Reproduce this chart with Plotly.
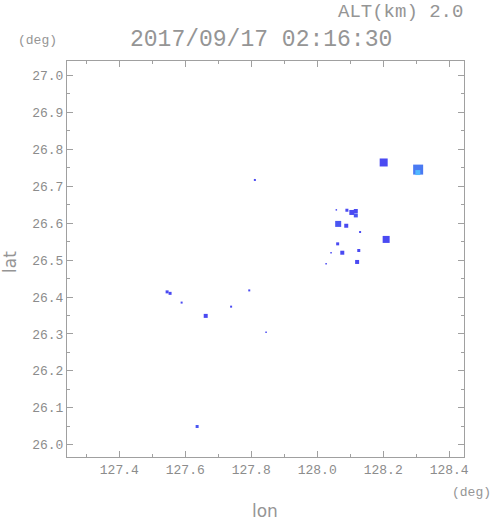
import plotly.graph_objects as go

# Echo cells: longitude, latitude, echo extent (cells), reflectivity-like value
lon = [128.2015, 128.306, 128.305, 128.090, 128.105, 128.117, 128.117, 128.0636, 128.088,
       128.209, 128.130, 128.062, 128.076, 128.126, 128.121, 128.042, 128.027, 128.058,
       127.545, 127.554, 127.589, 127.662, 127.739, 127.794, 127.845, 127.811, 127.636]
lat = [26.7643, 26.745, 26.737, 26.635, 26.629, 26.633, 26.621, 26.598, 26.593,
       26.556, 26.576, 26.544, 26.520, 26.526, 26.495, 26.520, 26.490, 26.636,
       26.414, 26.410, 26.385, 26.349, 26.374, 26.418, 26.305, 26.717, 26.0495]
extent = [8, 10, 5, 3, 5, 4, 4, 6, 4,
          7, 2, 3, 4, 3, 4, 1.5, 1.5, 1.5,
          3, 3, 2, 4, 2, 2, 1.5, 2, 3]
value = [20, 28, 36, 20, 20, 20, 22, 22, 20,
         20, 20, 20, 20, 20, 20, 20, 20, 20,
         20, 20, 20, 20, 20, 20, 20, 20, 22]

title_time = "2017/09/17 02:16:30"
alt_label = "ALT(km) 2.0"

gray = "#959595"
font_family = "Liberation Mono"
sans = "DejaVu Sans"

fig = go.Figure()
fig.add_trace(go.Scatter(
    x=lon, y=lat, mode="markers",
    marker=dict(symbol="square", size=extent, color=value, opacity=1,
                colorscale=[[0, "#4a4af2"], [0.5, "#4a7af2"], [1, "#52b8ff"]],
                cmin=20, cmax=36, line=dict(width=0)),
    hoverinfo="skip", showlegend=False))

axis_common = dict(
    showgrid=False, zeroline=False, showline=True, linecolor="#a0a0a0", linewidth=1,
    mirror="ticks", ticks="inside", ticklen=6, tickcolor="#a0a0a0", tickwidth=1,
    tickfont=dict(family=font_family, size=13, color="#8c8c8c"),
)

W, H = 491, 521
L, R, T, B = 67, 27, 61, 64

fig.update_layout(
    width=W, height=H,
    margin=dict(l=L, r=R, t=T, b=B),
    paper_bgcolor="white", plot_bgcolor="white",
    xaxis=dict(range=[127.2415, 128.445], tickvals=[127.4, 127.6, 127.8, 128.0, 128.2, 128.4],
               ticktext=["127.4", "127.6", "127.8", "128.0", "128.2", "128.4"],
               minor=dict(dtick=0.1, tick0=127.3, ticks="inside", ticklen=3, tickcolor="#a0a0a0"),
               **axis_common),
    yaxis=dict(range=[25.967, 27.039], tickvals=[26.0, 26.1, 26.2, 26.3, 26.4, 26.5, 26.6, 26.7, 26.8, 26.9, 27.0],
               ticktext=["26.0", "26.1", "26.2", "26.3", "26.4", "26.5", "26.6", "26.7", "26.8", "26.9", "27.0"],
               minor=dict(dtick=0.05, tick0=26.0, ticks="inside", ticklen=3, tickcolor="#a0a0a0"),
               **axis_common),
)

pw, ph = W - L - R, H - T - B
def px(xp):
    return (xp - L) / pw
def py(yp):
    return (H - B - yp) / ph

ann = [
    (alt_label, 400, 12, 19, 0, font_family),
    (title_time, 261, 40, 23, 0, font_family),
    ("(deg)", 37, 40, 13, 0, font_family),
    ("lat", 10, 262, 17, -90, sans),
    ("lon", 265, 511, 17, 0, sans),
    ("(deg)", 471, 493, 13, 0, font_family),
]
for t, xp, yp, fs, ang, fam in ann:
    fig.add_annotation(text=t, x=px(xp), y=py(yp), xref="paper", yref="paper",
                       xanchor="center", yanchor="middle", showarrow=False, textangle=ang,
                       font=dict(family=fam, size=fs, color=gray))

fig.write_html("out.html", config={"displayModeBar": False},
               post_script="document.body.style.margin='0';document.body.style.overflow='hidden';")
